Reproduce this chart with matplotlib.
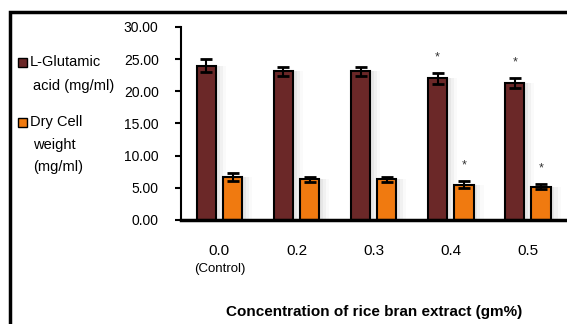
import numpy as np
import matplotlib.pyplot as plt
from matplotlib.patches import Rectangle

plt.rcParams['font.family'] = ['Liberation Sans Narrow', 'Liberation Sans', 'DejaVu Sans']

# rice bran extract concentrations and measured yields
concentrations = ['0.0', '0.2', '0.3', '0.4', '0.5']
glutamic = [24.0, 23.1, 23.1, 22.0, 21.3]
glutamic_err = [1.0, 0.7, 0.7, 0.9, 0.8]
dry_cell = [6.7, 6.3, 6.3, 5.5, 5.2]
dry_cell_err = [0.6, 0.4, 0.4, 0.5, 0.4]
glutamic_sig = [False, False, False, True, True]
dry_cell_sig = [False, False, False, True, True]

c_glu = '#6b2828'
c_dry = '#f07a10'

fig = plt.figure(figsize=(5.67, 3.24), dpi=100)
ax = fig.add_axes([0.319, 0.321, 0.68, 0.596])

x = np.arange(len(concentrations))
w = 0.25
off = 0.17

# soft drop shadow to the right of every bar
for k, a in [(0.05, 0.10), (0.09, 0.07), (0.13, 0.04)]:
    ax.bar(x - off + k, glutamic, w, color='#888888', alpha=a, zorder=1)
    ax.bar(x + off + k, dry_cell, w, color='#888888', alpha=a, zorder=1)

ax.bar(x - off, glutamic, w, color=c_glu, edgecolor='black', linewidth=1.5, zorder=2)
ax.bar(x + off, dry_cell, w, color=c_dry, edgecolor='black', linewidth=1.5, zorder=2)
ax.errorbar(x - off, glutamic, yerr=glutamic_err, fmt='none', ecolor='black',
            elinewidth=1.5, capsize=4.5, capthick=2, zorder=3)
ax.errorbar(x + off, dry_cell, yerr=dry_cell_err, fmt='none', ecolor='black',
            elinewidth=1.5, capsize=4.5, capthick=2, zorder=3)

# significance marks
for i in range(len(x)):
    if glutamic_sig[i]:
        ax.text(x[i] - off, glutamic[i] + glutamic_err[i] + 2.4, '*',
                ha='center', va='center', fontsize=9, color='#333333')
    if dry_cell_sig[i]:
        ax.text(x[i] + off, dry_cell[i] + dry_cell_err[i] + 2.4, '*',
                ha='center', va='center', fontsize=9, color='#333333')

ax.set_xlim(-0.5, 4.5)
ax.set_ylim(0, 30)
ax.set_yticks(np.arange(0, 31, 5))
ax.set_yticklabels(['%.2f' % v for v in np.arange(0, 31, 5)], fontsize=10)
ax.set_xticks(x)
ax.set_xticklabels(concentrations, fontsize=11)
ax.tick_params(axis='x', length=0, pad=17)
ax.tick_params(axis='y', direction='out', length=4, width=1.5, pad=12)
for s in ['top', 'right']:
    ax.spines[s].set_visible(False)
ax.spines['left'].set_linewidth(1.5)
ax.spines['bottom'].set_linewidth(2.5)

ax.text(0, -7.6, '(Control)', ha='center', va='center', fontsize=9.5)
ax.set_xlabel('Concentration of rice bran extract (gm%)', fontsize=11,
              fontweight='bold', labelpad=34)

# hand-placed legend on the left
fig.patches.append(Rectangle((18/567, 1 - 67/324), 9/567, 9/324, facecolor=c_glu,
                             edgecolor='black', lw=1, transform=fig.transFigure))
fig.patches.append(Rectangle((18/567, 1 - 127/324), 9/567, 9/324, facecolor=c_dry,
                             edgecolor='black', lw=1, transform=fig.transFigure))
fig.text(30/567, 1 - 62/324, 'L-Glutamic', fontsize=10.5, va='center')
fig.text(33/567, 1 - 86/324, 'acid (mg/ml)', fontsize=10.5, va='center')
fig.text(30/567, 1 - 122/324, 'Dry Cell', fontsize=10.5, va='center')
fig.text(33/567, 1 - 145/324, 'weight', fontsize=10.5, va='center')
fig.text(33/567, 1 - 167/324, '(mg/ml)', fontsize=10.5, va='center')

# outer frame
fig.patches.append(Rectangle((10/567, -0.1), 1.2, 1 - 12/324 + 0.1, fill=False,
                             edgecolor='black', lw=2.5, transform=fig.transFigure))

plt.savefig('out.png', dpi=100)
